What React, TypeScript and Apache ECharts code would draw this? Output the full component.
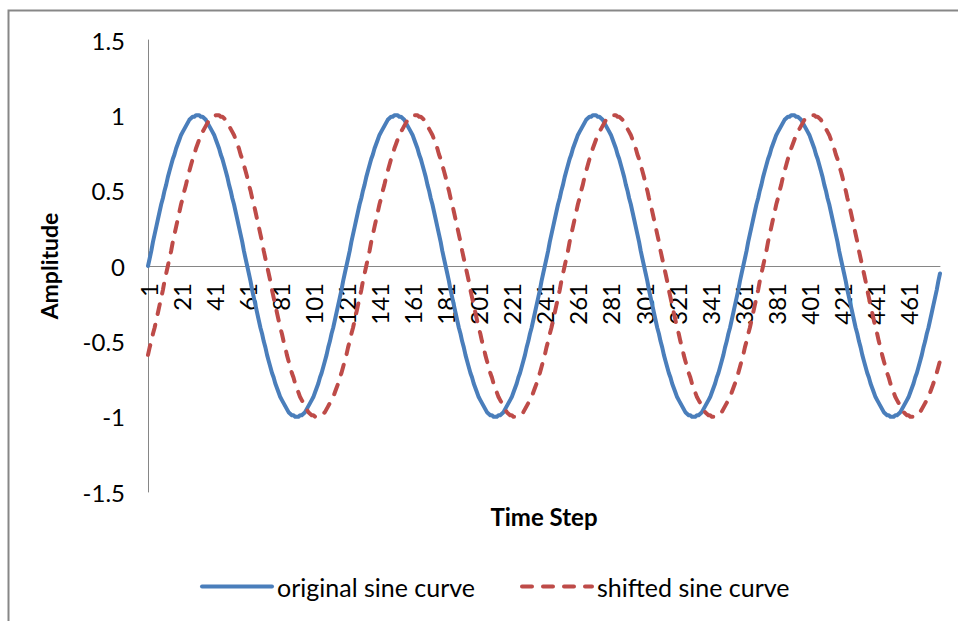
import React, { useEffect, useRef } from "react";
import * as echarts from "echarts";

// One period (120 time steps) of each curve
const originalCycle = [
  0, 0.05, 0.1, 0.16, 0.21, 0.26, 0.31, 0.36, 0.41, 0.45, 0.5, 0.54, 0.59, 0.63, 0.67, 0.71, 0.74, 0.78, 0.81, 0.84, 0.87, 0.89, 0.91, 0.93, 0.95, 0.97, 0.98, 0.99, 0.99, 1, 1,
  1, 0.99, 0.99, 0.98, 0.97, 0.95, 0.93, 0.91, 0.89, 0.87, 0.84, 0.81, 0.78, 0.74, 0.71, 0.67, 0.63, 0.59, 0.54, 0.5, 0.45, 0.41, 0.36, 0.31, 0.26, 0.21, 0.16, 0.1, 0.05,
  0,
  -0.05, -0.1, -0.16, -0.21, -0.26, -0.31, -0.36, -0.41, -0.45, -0.5, -0.54, -0.59, -0.63, -0.67, -0.71, -0.74, -0.78, -0.81, -0.84, -0.87, -0.89, -0.91, -0.93, -0.95, -0.97, -0.98, -0.99, -0.99, -1, -1,
  -1, -0.99, -0.99, -0.98, -0.97, -0.95, -0.93, -0.91, -0.89, -0.87, -0.84, -0.81, -0.78, -0.74, -0.71, -0.67, -0.63, -0.59, -0.54, -0.5, -0.45, -0.41, -0.36, -0.31, -0.26, -0.21, -0.16, -0.1, -0.05,
];

const shiftedCycle = [
  -0.59, -0.54, -0.5, -0.45, -0.41, -0.36, -0.31, -0.26, -0.21, -0.16, -0.1, -0.05,
  0, 0.05, 0.1, 0.16, 0.21, 0.26, 0.31, 0.36, 0.41, 0.45, 0.5, 0.54, 0.59, 0.63, 0.67, 0.71, 0.74, 0.78, 0.81, 0.84, 0.87, 0.89, 0.91, 0.93, 0.95, 0.97, 0.98, 0.99, 0.99, 1, 1,
  1, 0.99, 0.99, 0.98, 0.97, 0.95, 0.93, 0.91, 0.89, 0.87, 0.84, 0.81, 0.78, 0.74, 0.71, 0.67, 0.63, 0.59, 0.54, 0.5, 0.45, 0.41, 0.36, 0.31, 0.26, 0.21, 0.16, 0.1, 0.05,
  0,
  -0.05, -0.1, -0.16, -0.21, -0.26, -0.31, -0.36, -0.41, -0.45, -0.5, -0.54, -0.59, -0.63, -0.67, -0.71, -0.74, -0.78, -0.81, -0.84, -0.87, -0.89, -0.91, -0.93, -0.95, -0.97, -0.98, -0.99, -0.99, -1, -1,
  -1, -0.99, -0.99, -0.98, -0.97, -0.95, -0.93, -0.91, -0.89, -0.87, -0.84, -0.81, -0.78, -0.74, -0.71, -0.67, -0.63,
];

const cycleCount = 4;
const stepCount = 480;
const timeSteps = Array.from({ length: stepCount }, (_, i) => String(i + 1));
const seriesNames = ["original sine curve", "shifted sine curve"];
const yMin = -1.5;
const yMax = 1.5;
const yInterval = 0.5;

const repeatCycle = (cycle: number[]) => {
  const out: number[] = [];
  for (let c = 0; c < cycleCount; c++) out.push(...cycle);
  return out;
};

const FONT = "Lato";

export default function App() {
  const ref = useRef<HTMLDivElement>(null);
  useEffect(() => {
    if (!ref.current) return;
    const chart = echarts.init(ref.current, undefined, { renderer: "svg" });
    const axisLineStyle = { color: "#868686", width: 1 };
    const gridTop = 40;
    const gridBottom = 129;
    const gridHeight = 621 - gridTop - gridBottom;
    // place the category axis on the zero line of the value axis
    const zeroOffset = -gridHeight * ((0 - yMin) / (yMax - yMin));
    const legendCommon = {
      top: 574,
      padding: 0,
      itemWidth: 70,
      itemHeight: 14,
      itemGap: 0,
      itemStyle: { opacity: 0 },
      lineStyle: { width: 4 },
      textStyle: { fontFamily: FONT, fontSize: 25, color: "#000" },
    };
    chart.setOption({
      animation: false,
      backgroundColor: "#ffffff",
      grid: { left: 148, right: 18, top: gridTop, bottom: gridBottom, containLabel: false },
      legend: [
        { ...legendCommon, left: 200, data: [seriesNames[0]] },
        { ...legendCommon, left: 520, data: [seriesNames[1]] },
      ],
      xAxis: {
        type: "category",
        data: timeSteps,
        boundaryGap: false,
        position: "bottom",
        offset: zeroOffset,
        axisLine: { show: true, onZero: false, lineStyle: axisLineStyle },
        axisTick: { show: false },
        splitLine: { show: false },
        axisLabel: {
          interval: 19,
          rotate: 90,
          margin: 17,
          fontFamily: FONT,
          fontSize: 24,
          color: "#000",
        },
      },
      yAxis: {
        type: "value",
        min: yMin,
        max: yMax,
        interval: yInterval,
        name: "Amplitude",
        nameLocation: "middle",
        nameRotate: 90,
        nameGap: 88,
        nameTextStyle: { fontFamily: FONT, fontSize: 23, fontWeight: "bold", color: "#000" },
        axisLine: { show: true, lineStyle: axisLineStyle },
        axisTick: { show: false },
        splitLine: { show: false },
        axisLabel: { margin: 23, fontFamily: FONT, fontSize: 24, color: "#000" },
      },
      graphic: [
        {
          type: "rect",
          shape: { x: 8.5, y: 10.5, width: 1200, height: 1000 },
          style: { fill: "none", stroke: "#878787", lineWidth: 2 },
          silent: true,
        },
        {
          type: "text",
          x: 544,
          y: 516,
          style: {
            text: "Time Step",
            fontFamily: FONT,
            fontSize: 24,
            fontWeight: "bold",
            fill: "#000",
            textAlign: "center",
            textVerticalAlign: "middle",
          },
        },
      ],
      series: [
        {
          name: seriesNames[0],
          type: "line",
          data: repeatCycle(originalCycle),
          symbol: "none",
          showSymbol: false,
          color: "#4A7EBB",
          lineStyle: { color: "#4A7EBB", width: 4, join: "round", cap: "round" },
        },
        {
          name: seriesNames[1],
          type: "line",
          data: repeatCycle(shiftedCycle),
          symbol: "none",
          showSymbol: false,
          color: "#BE4B48",
          lineStyle: { color: "#BE4B48", width: 4, type: [10, 11], cap: "round", join: "round" },
        },
      ],
    });
    return () => chart.dispose();
  }, []);
  return (
    <div
      ref={ref}
      style={{ position: "fixed", left: 0, top: 0, width: 958, height: 621, background: "#fff" }}
    />
  );
}
